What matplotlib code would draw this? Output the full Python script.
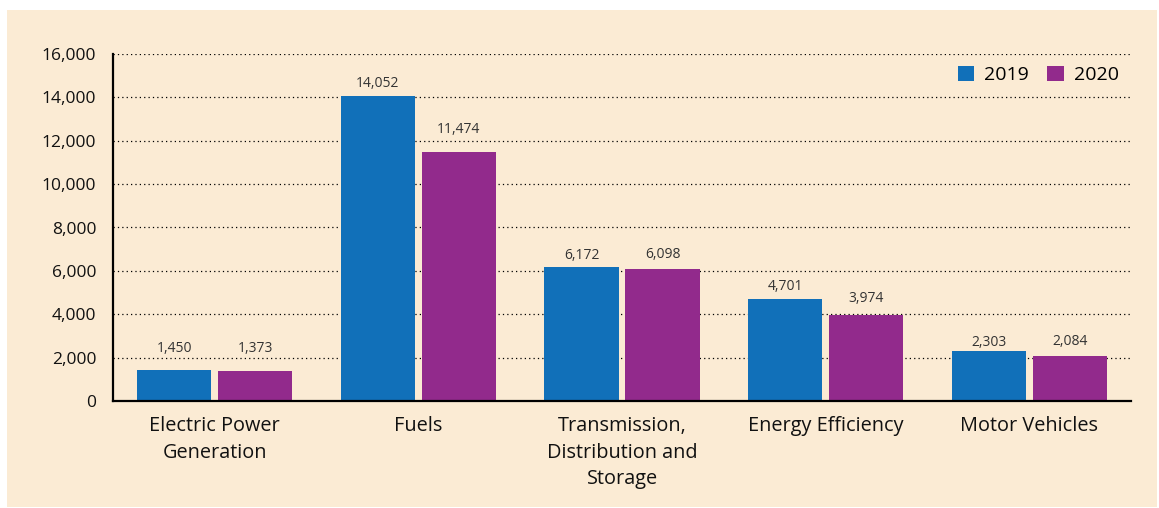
import matplotlib
matplotlib.use("Agg")
import matplotlib.pyplot as plt
from matplotlib.patches import Rectangle
import numpy as np

categories = ["Electric Power\nGeneration", "Fuels", "Transmission,\nDistribution and\nStorage",
              "Energy Efficiency", "Motor Vehicles"]
series_names = ["2019", "2020"]
values_2019 = [1450, 14052, 6172, 4701, 2303]
values_2020 = [1373, 11474, 6098, 3974, 2084]
yticks = [0, 2000, 4000, 6000, 8000, 10000, 12000, 14000, 16000]

# label offsets above bars (pixels), chosen to keep labels clear of gridlines
label_pad_2019 = [21, 13, 12, 13, 9]
label_pad_2020 = [23, 23, 14, 16, 14]

blue = "#1170B9"
purple = "#922A8C"
beige = "#FBEBD4"

plt.rcParams['font.family'] = ['Open Sans', 'DejaVu Sans']

fig = plt.figure(figsize=(11.59, 5.08), dpi=100)
fig.patch.set_facecolor("white")
bg = Rectangle((7/1159, 1/508), 1150/1159, 497/508, transform=fig.transFigure,
               facecolor=beige, edgecolor="none", zorder=-10)
fig.add_artist(bg)

ax = fig.add_axes([113/1159, 1-401/508, (1131-113)/1159, (401-54)/508])
ax.set_facecolor("none")
ax.set_zorder(1)

x = np.arange(len(categories))
w = 0.364
off = 0.199
b1 = ax.bar(x - off, values_2019, w, color=blue, label=series_names[0], zorder=3)
b2 = ax.bar(x + off, values_2020, w, color=purple, label=series_names[1], zorder=3)

for bars, vals, pads in ((b1, values_2019, label_pad_2019), (b2, values_2020, label_pad_2020)):
    for r, v, p in zip(bars, vals, pads):
        ax.annotate(f"{v:,}", (r.get_x() + r.get_width()/2, v), xytext=(0, p),
                    textcoords="offset pixels", ha="center", va="center",
                    fontsize=10, color="#333333")

ax.set_xlim(-0.5, 4.5)
ax.set_ylim(0, 16000)
ax.set_yticks(yticks)
ax.set_yticklabels([f"{t:,}" for t in yticks], fontsize=12.5, color="#111111", fontweight="medium")
ax.set_xticks(x)
ax.set_xticklabels(categories, fontsize=14.3, color="#111111", linespacing=1.42, fontweight="medium")
ax.tick_params(axis="both", length=0)
ax.tick_params(axis="y", pad=12)
ax.tick_params(axis="x", pad=11)

for yv in yticks[1:]:
    ax.axhline(yv, color="black", linestyle=(0, (1, 2.5)), linewidth=0.9, zorder=1)

for s in ["top", "right"]:
    ax.spines[s].set_visible(False)
ax.spines["left"].set_linewidth(1.6)
ax.spines["bottom"].set_linewidth(1.6)
ax.spines["left"].set_zorder(4)
ax.spines["bottom"].set_zorder(4)

leg = ax.legend(loc="upper right", bbox_to_anchor=(1.005, 1.016), ncol=2, frameon=False,
                fontsize=14, handlelength=0.85, handleheight=0.85, handletextpad=0.5,
                columnspacing=0.95)

fig.savefig("out.png", dpi=100, facecolor=fig.get_facecolor())
